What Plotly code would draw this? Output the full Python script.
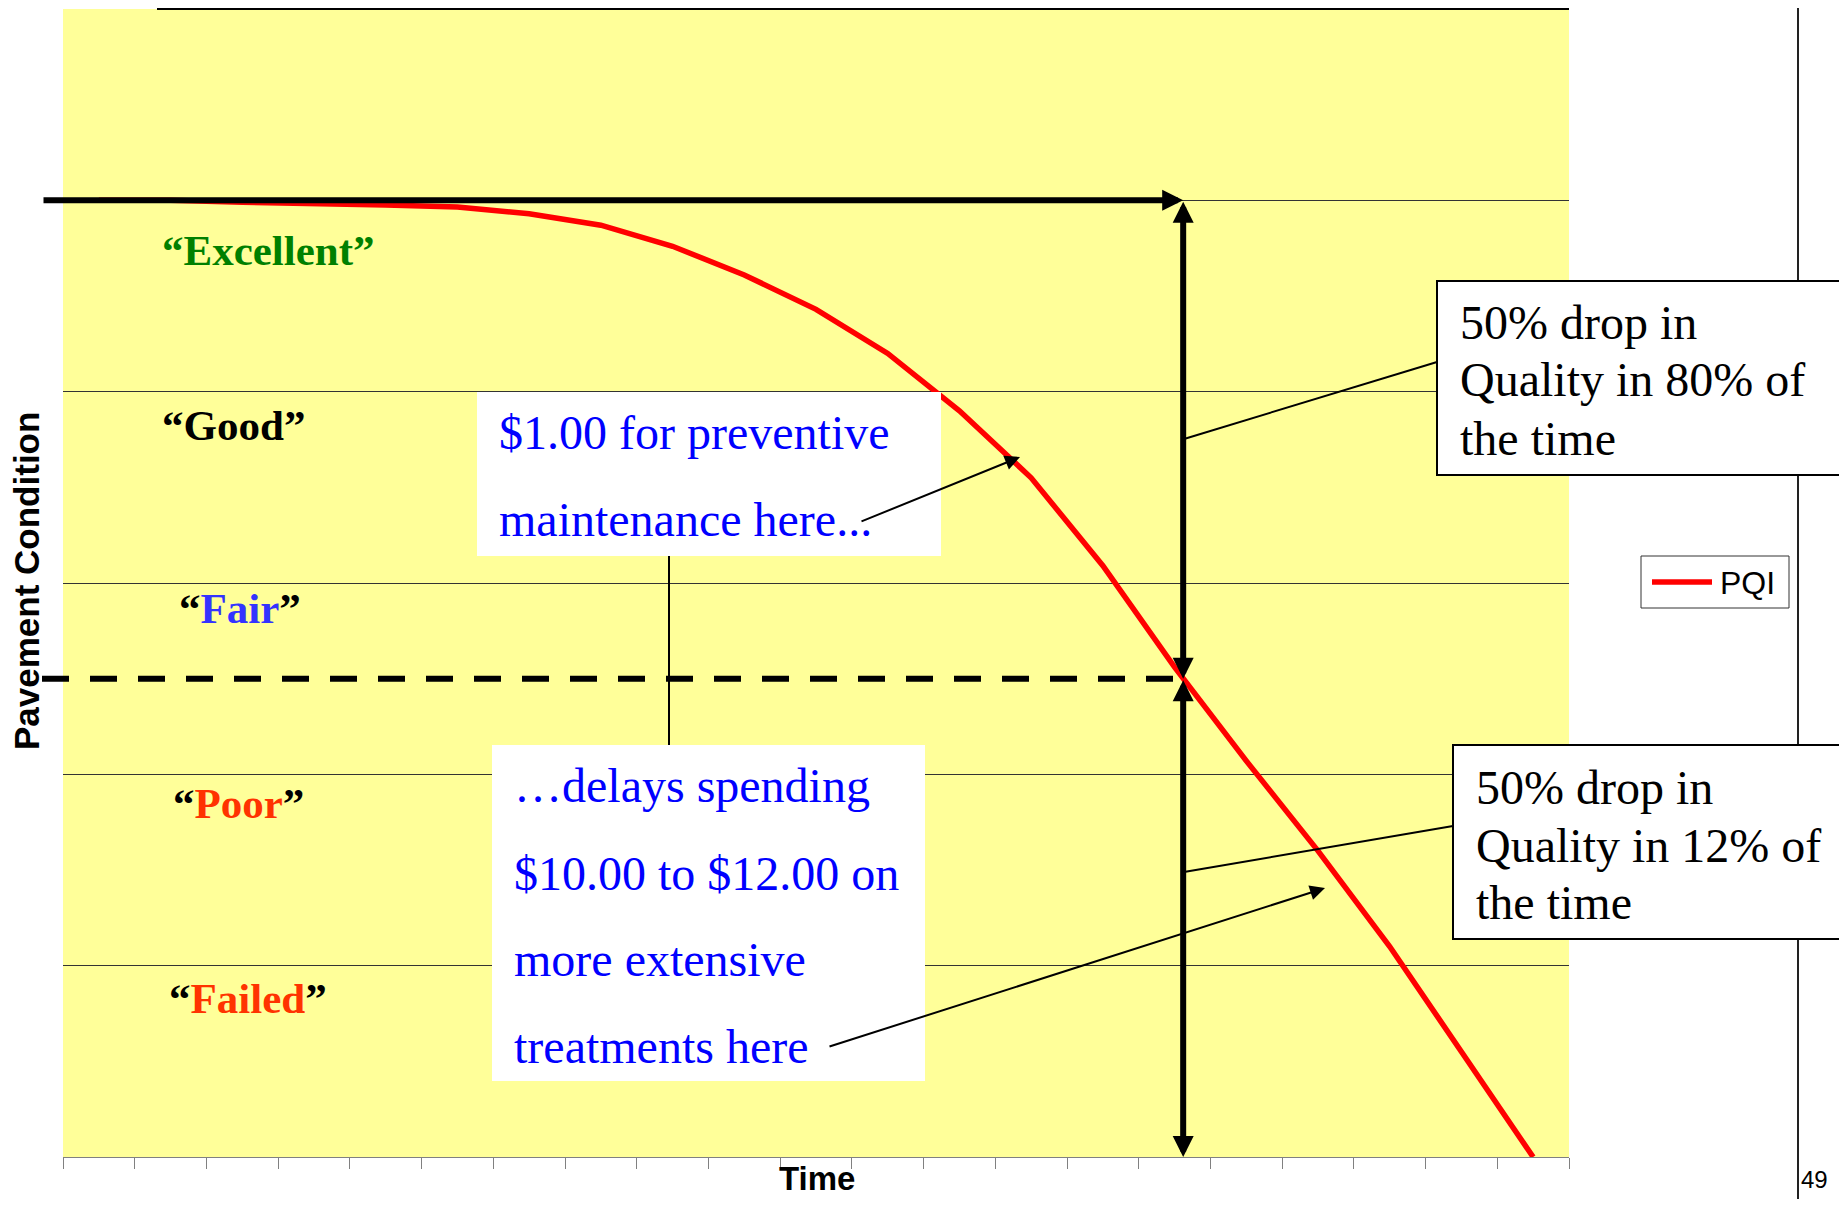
import plotly.graph_objects as go

# ---- data -------------------------------------------------------------
periods = list(range(21))
pqi = [5.0, 5.0, 4.99, 4.985, 4.975, 4.965, 4.93, 4.87, 4.76, 4.61, 4.43,
       4.20, 3.90, 3.55, 3.09, 2.56, 2.07, 1.60, 1.10, 0.55, 0.0]
condition_names = ["Excellent", "Good", "Fair", "Poor", "Failed"]
condition_colors = ["#008000", "#000000", "#3333FF", "#FF3300", "#FF3300"]
quote_colors = ["#008000", "#000000", "#000000", "#000000", "#000000"]
full_level = 5.0
half_level = 2.5
cross_period = 15.12

# ---- geometry (page pixels; the page body adds an 8px margin) ---------
PAGE = 8
FIG_W, FIG_H = 1847 - 2 * PAGE, 1207 - 2 * PAGE
L, R, T, B = 63, 1569, 9, 1157
SERIF = "Liberation Serif"
SANS = "Liberation Sans"


def px(x):
    return (x - L) / (R - L)


def py(y):
    return (B - y) / (B - T)


def ypix(v):
    return B - v / 6.0 * (B - T)


def xpix(p):
    return L + (p + 0.5) / 21.0 * (R - L)


def text(fig, x, y, s, size=48, color="#000", family=SERIF, xanchor="left", angle=0, yanchor="middle"):
    fig.add_annotation(x=px(x), y=py(y), xref="paper", yref="paper", text=s, showarrow=False,
                       xanchor=xanchor, yanchor=yanchor, textangle=angle,
                       font=dict(family=family, size=size, color=color))


def arrow(fig, x0, y0, x1, y1, width=2, size=1.5, both=False):
    fig.add_annotation(x=px(x1), y=py(y1), xref="paper", yref="paper", ax=x0 - x1, ay=y0 - y1,
                       text="", showarrow=True, arrowhead=2, arrowsize=size, arrowwidth=width,
                       arrowcolor="#000", arrowside="end+start" if both else "end",
                       startarrowhead=2, startarrowsize=size)


def line(fig, x0, y0, x1, y1, width=2, dash="solid", layer="above", color="#000"):
    fig.add_shape(type="line", xref="paper", yref="paper", x0=px(x0), y0=py(y0), x1=px(x1), y1=py(y1),
                  line=dict(color=color, width=width, dash=dash), layer=layer)


def box(fig, x0, y0, x1, y1, border=0, color="#000"):
    fig.add_shape(type="rect", xref="paper", yref="paper", x0=px(x0), y0=py(y0), x1=px(x1), y1=py(y1),
                  fillcolor="white", line=dict(color=color, width=border), layer="above")


fig = go.Figure()
fig.add_trace(go.Scatter(x=periods, y=pqi, mode="lines", name="PQI", showlegend=False,
                         line=dict(color="#FF0000", width=5.5)))

# frame lines outside the chart
line(fig, 157, 9, R, 9, width=2, layer="below")
line(fig, 1798, 0, 1798, 1200, width=2, layer="below", color="#222")

# reference levels
y_full, y_half, x_cross = ypix(full_level), ypix(half_level), xpix(cross_period)
line(fig, 42, y_half, x_cross, y_half, width=6, dash="27px,21px")
arrow(fig, 42, y_full, x_cross, y_full, width=6, size=0.7)
arrow(fig, x_cross, y_full, x_cross, y_half, width=6, size=0.7, both=True)
arrow(fig, x_cross, y_half, x_cross, B, width=6, size=0.7, both=True)

# condition labels
label_pos = [(160, 250), (160, 425), (177, 608), (171, 803), (167, 998)]
for name, c, qc, (lx, ly) in zip(condition_names, condition_colors, quote_colors, label_pos):
    s = f'<b><span style="color:{qc}">“</span>{name}<span style="color:{qc}">”</span></b>'
    text(fig, lx, ly, s, size=43, color=c)

# blue cost boxes
box(fig, 477, 392, 941, 556)
box(fig, 492, 745, 925, 1081)
line(fig, 669, 556, 669, 745, width=2)
for s, y in [("$1.00 for preventive", 433), ("maintenance here...", 519)]:
    text(fig, 497, y, s, color="#0000FF")
for s, y in [("…delays spending", 786), ("$10.00 to $12.00 on", 873),
             ("more extensive", 959), ("treatments here", 1046)]:
    text(fig, 512, y, s, color="#0000FF")
arrow(fig, 860, 522, 1020, 457)
arrow(fig, 828, 1047, 1325, 888)

# quality drop callouts
line(fig, 1437, 362, 1184, 439, width=2)
line(fig, 1453, 826, 1184, 872, width=2)
box(fig, 1437, 281, 1900, 475, border=2)
box(fig, 1453, 745, 1900, 939, border=2)
for s, y in [("50% drop in", 322), ("Quality in 80% of", 380), ("the time", 438)]:
    text(fig, 1458, y, s)
for s, y in [("50% drop in", 787), ("Quality in 12% of", 845), ("the time", 902)]:
    text(fig, 1474, y, s)

# legend box
box(fig, 1641, 556, 1789, 608, border=1, color="#333")
line(fig, 1652, 582, 1712, 582, width=5.5, color="#FF0000")
text(fig, 1718, 583, "PQI", size=32, family=SANS)

# axis titles and page number
text(fig, 817, 1178, "<b>Time</b>", size=33, family=SANS, xanchor="center")
text(fig, 26, 581, "<b>Pavement Condition</b>", size=35, family=SANS, xanchor="center", angle=-90)
text(fig, 1799, 1195, "49", size=24, family=SANS, yanchor="bottom")

fig.update_layout(
    width=FIG_W, height=FIG_H,
    margin=dict(l=L - PAGE, r=FIG_W + PAGE - R, t=T - PAGE, b=FIG_H + PAGE - B, pad=0),
    paper_bgcolor="white", plot_bgcolor="#FFFF99",
    showlegend=False,
    xaxis=dict(range=[-0.5, 20.5], tick0=-0.5, dtick=1, ticks="outside", ticklen=11,
               tickcolor="#808080", showticklabels=False, showgrid=False, zeroline=False,
               showline=True, linecolor="#808080", linewidth=1),
    yaxis=dict(range=[0, 6], dtick=1, showgrid=True, gridcolor="#333333", gridwidth=1,
               showticklabels=False, zeroline=False, showline=False, ticks=""),
)

fig.write_html("out.html")
